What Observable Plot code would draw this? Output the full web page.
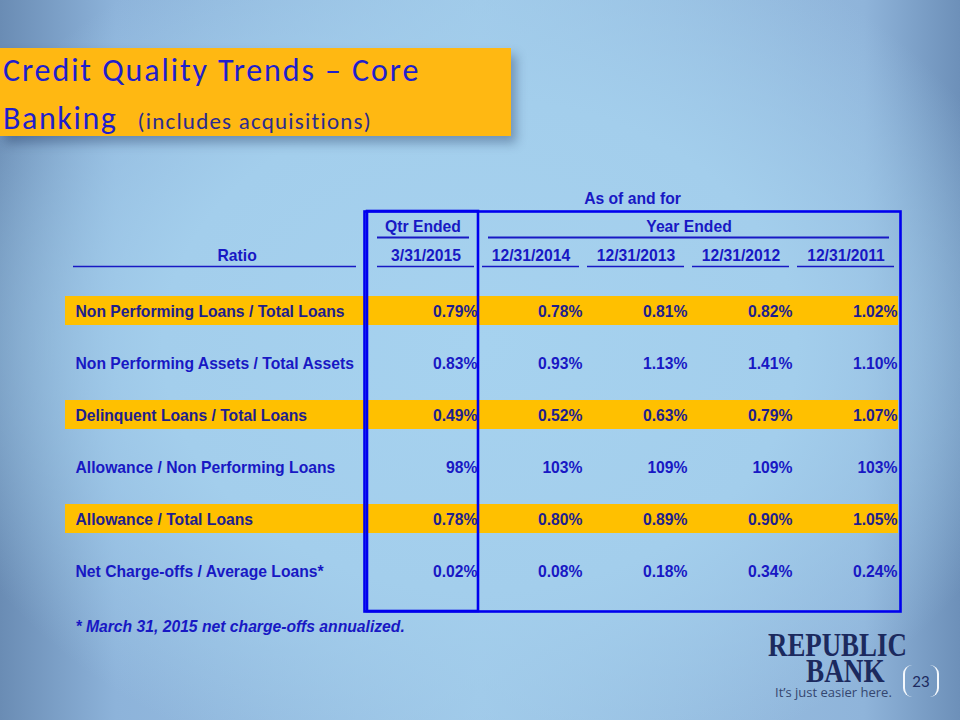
<!DOCTYPE html>
<html>
<head>
<meta charset="utf-8">
<script src="https://cdn.jsdelivr.net/npm/d3@7"></script>
<script src="https://cdn.jsdelivr.net/npm/@observablehq/plot@0.6"></script>
<style>
  html, body { margin: 0; padding: 0; }
  #slide {
    position: relative; width: 960px; height: 720px; overflow: hidden;
    background:
      radial-gradient(ellipse 60% 62% at 50% 48%, rgba(166,210,239,1) 0%, rgba(163,206,236,1) 55%, rgba(150,190,224,0.0) 100%),
      linear-gradient(to right, #6a8cb4 0%, #8db3da 12%, #9fc8e8 50%, #8fb4da 90%, #6d90b9 100%);
  }
  #title {
    position: absolute; left: 0; top: 48px; width: 511px; height: 88px;
    background: #FFB812; box-shadow: 5px 7px 10px rgba(20,40,80,0.35);
    font-family: Carlito, Lato, "Open Sans", sans-serif; color: #1f1fcc;
  }
  #title .l1 { position: absolute; left: 3px; top: 7px; font-size: 32px; line-height: 32px; letter-spacing: 1.9px; white-space: nowrap; }
  #title .l2 { position: absolute; left: 3px; top: 55px; font-size: 32px; line-height: 32px; letter-spacing: 1.6px; white-space: nowrap; }
  #title .sub { font-size: 23px; letter-spacing: 1.2px; color: #2b2b90; margin-left: 20px; }
  #chart { position: absolute; left: 0; top: 0; }
  #logo { position: absolute; left: 760px; top: 630px; width: 200px; height: 90px; }
  .rep { position: absolute; left: 8px; top: 2px; font-family: "Liberation Serif", "DejaVu Serif", serif; font-weight: bold; font-size: 34px; line-height: 26px; color: #1c2a5e; transform: scaleX(0.79); transform-origin: left top; white-space: nowrap; }
  .bank { position: absolute; left: 46px; top: 28px; font-family: "Liberation Serif", "DejaVu Serif", serif; font-weight: bold; font-size: 34px; line-height: 26px; color: #1c2a5e; transform: scaleX(0.8); transform-origin: left top; white-space: nowrap; }
  .tag { position: absolute; left: 15px; top: 55px; font-family: "Open Sans", Lato, sans-serif; font-size: 13px; line-height: 14px; color: #34466f; white-space: nowrap; }
  .pg { position: absolute; left: 143px; top: 35px; width: 32px; height: 32px; border-left: 2px solid #f4f8fc; border-right: 2px solid #f4f8fc; border-radius: 9px; font-family: Lato, "Open Sans", sans-serif; font-size: 15px; color: #1c2a5e; text-align: center; line-height: 32px; }
</style>
</head>
<body>
<div id="slide">
  <div id="chart"></div>
  <div id="title"><div class="l1">Credit Quality Trends – Core</div><div class="l2">Banking<span class="sub">(includes acquisitions)</span></div></div>
  <div id="logo">
    <div class="rep">REPUBLIC</div>
    <div class="bank">BANK</div>
    <div class="tag">It’s just easier here.</div>
    <div class="pg">23</div>
  </div>
</div>
<script>
// ---- data ----
const ratios = [
  "Non Performing Loans / Total Loans",
  "Non Performing Assets / Total Assets",
  "Delinquent Loans / Total Loans",
  "Allowance / Non Performing Loans",
  "Allowance / Total Loans",
  "Net Charge-offs / Average Loans*"
];
const highlighted = [true, false, true, false, true, false];
const decimals = [2, 2, 2, 0, 2, 2];
const periods = ["3/31/2015", "12/31/2014", "12/31/2013", "12/31/2012", "12/31/2011"];
const qtr2015Q1 = [0.79, 0.83, 0.49, 98, 0.78, 0.02];
const year2014 = [0.78, 0.93, 0.52, 103, 0.80, 0.08];
const year2013 = [0.81, 1.13, 0.63, 109, 0.89, 0.18];
const year2012 = [0.82, 1.41, 0.79, 109, 0.90, 0.34];
const year2011 = [1.02, 1.10, 1.07, 103, 1.05, 0.24];
const seriesByPeriod = [qtr2015Q1, year2014, year2013, year2012, year2011];
const groupQtr = "Qtr Ended";
const groupYear = "Year Ended";
const topHeader = "As of and for";
const ratioHeader = "Ratio";
const footnote = "* March 31, 2015 net charge-offs annualized.";

// ---- tables built from the arrays ----
const rowTable = ratios.map((r, i) => ({ratio: r, hi: highlighted[i]}));
const cells = [];
periods.forEach((p, j) => ratios.forEach((r, i) => cells.push({
  period: p, ratio: r, hi: highlighted[i],
  label: seriesByPeriod[j][i].toFixed(decimals[i]) + "%"
})));

const BLUE = "#0000ee";
const TXT = "#1818c4";
const TXT_HI = "#1e1e8e";
const FONT = "'Liberation Sans', Arial, sans-serif";
const FS = 15.7;

const chart = Plot.plot({
  width: 960,
  height: 720,
  marginTop: 211,
  marginBottom: 109,
  marginLeft: 364,
  marginRight: 60,
  style: {background: "transparent", overflow: "visible", fontFamily: FONT},
  x: {type: "band", domain: periods, range: [371, 899], padding: 0, axis: null},
  y: {type: "band", domain: ratios, range: [285, 597], padding: 0, axis: null},
  marks: [
    // highlighted row bands
    Plot.cell(rowTable.filter(d => d.hi), {y: "ratio", fill: "#FFC000", insetTop: 11, insetBottom: 12, insetLeft: -299, insetRight: 2}),
    // boxes
    Plot.frame({stroke: BLUE, strokeWidth: 2.6}),
    Plot.cell([periods[0]], {x: d => d, fill: "none", stroke: BLUE, strokeWidth: 2.6, insetLeft: -6}),
    // values
    Plot.text(cells, {x: "period", y: "ratio", text: "label", textAnchor: "end", dx: 51.5,
      fontSize: FS, fontWeight: "bold", fill: d => d.hi ? TXT_HI : TXT}),
    // ratio labels
    Plot.text(rowTable, {y: "ratio", text: "ratio", frameAnchor: "left", textAnchor: "start", dx: -289,
      fontSize: FS, fontWeight: "bold", fill: d => d.hi ? TXT_HI : TXT}),
    // header texts
    Plot.text([topHeader], {text: d => d, frameAnchor: "top", lineAnchor: "middle", dy: -13, fontSize: FS, fontWeight: "bold", fill: TXT}),
    Plot.text([groupQtr], {x: () => periods[0], text: d => d, frameAnchor: "top", lineAnchor: "middle", dy: 15, dx: -3, fontSize: FS, fontWeight: "bold", fill: TXT}),
    Plot.text([groupYear], {x: () => periods[2], text: d => d, frameAnchor: "top", lineAnchor: "middle", dy: 15, dx: 53, fontSize: FS, fontWeight: "bold", fill: TXT}),
    Plot.text(periods, {x: d => d, text: d => d, frameAnchor: "top", lineAnchor: "middle", dy: 44, fontSize: FS, fontWeight: "bold", fill: TXT}),
    Plot.text([ratioHeader], {text: d => d, frameAnchor: "top-left", lineAnchor: "middle", dx: -147, dy: 44, fontSize: FS, fontWeight: "bold", fill: TXT}),
    // underlines
    Plot.tickY(periods, {x: d => d, y: () => ratios[0], dy: -45, insetLeft: 4, insetRight: 4, stroke: TXT, strokeWidth: 1.5}),
    Plot.tickY([ratioHeader], {y: () => ratios[0], dy: -45, insetLeft: -291, insetRight: 544, stroke: TXT, strokeWidth: 1.5}),
    Plot.tickY([periods[0]], {x: d => d, y: () => ratios[0], dy: -74, insetLeft: 4, insetRight: 9, stroke: TXT, strokeWidth: 2}),
    Plot.tickY([periods[1]], {x: d => d, y: () => ratios[0], dy: -74, insetLeft: 10, stroke: TXT, strokeWidth: 2}),
    Plot.tickY(periods.slice(2, 4), {x: d => d, y: () => ratios[0], dy: -74, stroke: TXT, strokeWidth: 2}),
    Plot.tickY([periods[4]], {x: d => d, y: () => ratios[0], dy: -74, insetRight: 9, stroke: TXT, strokeWidth: 2}),
    // footnote
    Plot.text([footnote], {text: d => d, frameAnchor: "bottom-left", lineAnchor: "middle", textAnchor: "start", dx: -289, dy: 15,
      fontSize: FS, fontWeight: "bold", fontStyle: "italic", fill: TXT})
  ]
});
document.getElementById("chart").appendChild(chart);
</script>
</body>
</html>
